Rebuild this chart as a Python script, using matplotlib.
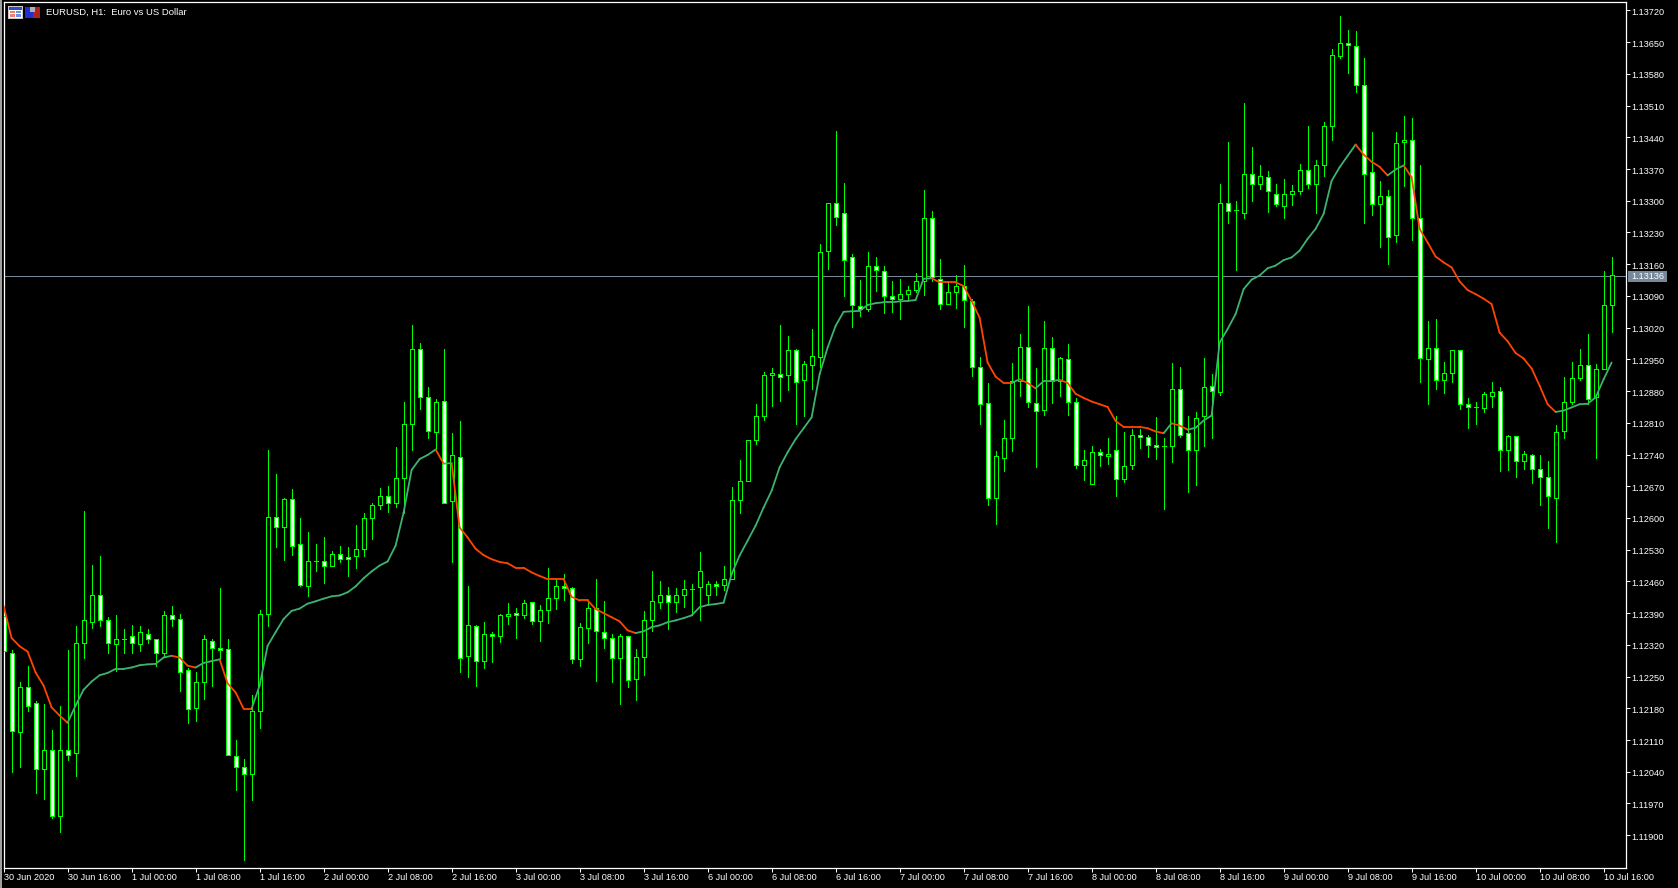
# EURUSD H1 candles with a moving average coloured by its direction
import matplotlib
matplotlib.use('Agg')
import matplotlib.pyplot as plt
from matplotlib.patches import Rectangle
from matplotlib.transforms import ScaledTranslation

# prices in 1e-5 units (points)
opens = [112384,112301,112127,112228,112191,112045,112089,111942,112089,112081,
112325,112370,112429,112374,112321,112334,112339,112321,112345,112334,
112303,112385,112378,112264,112180,112237,112328,112312,112310,112074,
112050,112034,112173,112387,112603,112581,112641,112542,112449,112506,
112506,112495,112520,112513,112515,112531,112601,112628,112648,112632,
112689,112807,112972,112866,112789,112859,112637,112734,112295,112361,
112284,112345,112339,112383,112390,112385,112414,112372,112398,112423,
112449,112445,112288,112357,112401,112348,112335,112290,112339,112244,
112293,112374,112414,112429,112414,112431,112443,112447,112429,112454,
112451,112465,112639,112681,112773,112826,112915,112917,112915,112970,
112904,112937,112956,113190,113294,113274,113175,113067,113062,113157,
113146,113089,113084,113095,113104,113122,113261,113128,113073,113098,
113113,113078,112934,112853,112645,112733,112776,112903,112978,112853,
112839,112976,112903,112950,112855,112718,112674,112745,112736,112749,
112687,112716,112784,112778,112762,112759,112758,112884,112787,112751,
112824,112892,112879,113296,113279,113274,113358,113336,113352,113314,
113288,113314,113321,113369,113336,113380,113464,113619,113649,113641,
113555,113363,113292,113310,113224,113429,113435,113261,112950,112976,
112904,112919,112970,112851,112844,112842,112870,112881,112751,112782,
112725,112740,112709,112690,112645,112791,112857,112908,112937,112866,
112928,113071]

highs = [112406,112309,112237,112274,112197,112189,112132,112184,112309,112361,
112615,112496,112515,112381,112385,112354,112363,112361,112354,112334,
112394,112405,112387,112268,112259,112341,112332,112445,112334,112109,
112067,112209,112396,112749,112696,112645,112665,112601,112570,112542,
112559,112528,112539,112537,112584,112610,112634,112667,112670,112756,
112855,113026,112986,112888,112862,112973,112787,112815,112449,112363,
112371,112348,112387,112412,112401,112418,112414,112408,112489,112463,
112476,112447,112368,112414,112465,112416,112343,112345,112339,112311,
112394,112483,112460,112447,112445,112463,112454,112524,112462,112462,
112493,112668,112727,112773,112851,112923,112932,113025,113001,112972,
112946,113016,113204,113296,113455,113339,113182,113126,113186,113175,
113157,113124,113128,113111,113140,113323,113278,113172,113124,113137,
113159,113084,112956,112897,112747,112817,112943,113005,113067,112930,
113034,112999,112956,112983,112864,112749,112758,112753,112776,112824,
112789,112796,112796,112784,112822,112776,112941,112934,112826,112833,
112952,112917,113336,113429,113299,113515,113418,113378,113365,113336,
113347,113334,113382,113466,113389,113473,113636,113707,113676,113674,
113616,113451,113343,113323,113451,113486,113482,113380,113034,113040,
112945,112970,112970,112864,112857,112879,112899,112888,112784,112782,
112747,112742,112740,112725,112806,112912,112945,112974,113005,112939,
113146,113175]

lows = [112307,112039,112051,112173,111993,111980,111937,111908,112066,112031,
112292,112357,112362,112303,112263,112303,112303,112306,112324,112274,
112295,112362,112219,112148,112152,112201,112230,112287,112076,112000,
111846,111978,112137,112362,112536,112508,112519,112449,112428,112482,
112457,112495,112503,112472,112489,112515,112554,112619,112614,112625,
112612,112751,112841,112776,112752,112634,112502,112259,112248,112230,
112268,112283,112326,112366,112336,112379,112365,112329,112369,112400,
112418,112279,112274,112325,112241,112314,112237,112190,112228,112199,
112254,112351,112402,112354,112393,112404,112385,112375,112408,112429,
112442,112465,112610,112681,112764,112817,112848,112859,112883,112808,
112826,112885,112934,113149,113247,113090,113022,113046,113057,113100,
113053,113055,113039,113079,113098,113092,113123,113062,113073,113064,
113022,112914,112807,112629,112587,112704,112748,112870,112844,112713,
112828,112854,112870,112828,112711,112684,112674,112715,112720,112649,
112680,112708,112755,112735,112731,112620,112724,112779,112658,112673,
112759,112777,112872,113252,113148,113263,113300,113326,113276,113288,
113263,113291,113314,113329,113274,113355,113435,113614,113583,113541,
113250,113269,113199,113161,113210,113333,113214,112899,112852,112885,
112876,112900,112840,112799,112808,112834,112845,112704,112706,112691,
112709,112678,112629,112578,112548,112777,112851,112904,112851,112733,
112928,113011]

closes = [112307,112129,112228,112184,112047,112089,111942,112089,112076,112325,
112374,112429,112374,112323,112334,112334,112323,112348,112334,112303,
112385,112378,112261,112178,112239,112332,112312,112308,112076,112050,
112034,112175,112387,112603,112581,112641,112539,112451,112506,112506,
112495,112520,112509,112509,112531,112601,112628,112648,112634,112689,
112807,112972,112866,112793,112857,112634,112738,112290,112363,112284,
112343,112339,112385,112387,112385,112412,112372,112398,112423,112449,
112445,112288,112359,112401,112350,112335,112290,112339,112242,112293,
112374,112416,112429,112414,112431,112443,112443,112482,112454,112449,
112465,112639,112681,112773,112826,112915,112921,112912,112970,112901,
112939,112957,113186,113294,113265,113170,113071,113062,113157,113148,
113089,113084,113095,113104,113122,113261,113131,113073,113098,113113,
113080,112934,112851,112643,112736,112776,112903,112978,112855,112837,
112976,112903,112952,112857,112716,112727,112745,112738,112742,112687,
112714,112784,112778,112762,112756,112759,112884,112784,112749,112820,
112888,112881,113296,113277,113279,113358,113338,113354,113321,113292,
113314,113321,113369,113336,113380,113464,113621,113649,113643,113555,
113360,113292,113310,113221,113427,113435,113261,112952,112976,112904,
112921,112970,112851,112846,112844,112873,112877,112751,112782,112725,
112742,112709,112690,112648,112789,112857,112908,112937,112862,112928,
113071,113136]

ma = [112406,112335,112317,112305,112259,112230,112182,112164,112148,112186,
112221,112239,112253,112258,112267,112267,112270,112275,112277,112278,
112292,112296,112292,112274,112270,112280,112284,112288,112235,112215,
112179,112179,112230,112318,112348,112377,112395,112400,112411,112416,
112422,112427,112429,112436,112449,112467,112482,112495,112504,112539,
112612,112706,112730,112739,112751,112720,112721,112579,112557,112532,
112518,112509,112503,112500,112490,112490,112480,112472,112465,112465,
112465,112426,112418,112418,112399,112390,112381,112372,112352,112346,
112350,112359,112363,112370,112374,112379,112385,112403,112408,112410,
112413,112476,112517,112550,112583,112623,112660,112712,112745,112774,
112798,112822,112917,112976,113024,113055,113056,113057,113070,113074,
113076,113076,113078,113079,113081,113128,113129,113120,113120,113120,
113112,113079,113042,112943,112912,112898,112898,112906,112898,112886,
112902,112902,112905,112898,112874,112865,112857,112851,112845,112814,
112801,112801,112801,112798,112791,112787,112809,112804,112795,112799,
112815,112826,112987,113017,113050,113105,113126,113135,113151,113157,
113169,113175,113190,113216,113238,113271,113344,113374,113399,113424,
113402,113386,113375,113356,113369,113378,113352,113238,113208,113177,
113164,113153,113122,113103,113094,113084,113072,113009,112990,112964,
112952,112930,112892,112851,112834,112837,112844,112851,112852,112866,
112906,112943]

last_price = 113136
price_ticks = [113720,113650,113580,113510,113440,113370,113300,113230,113160,113090,
               113020,112950,112880,112810,112740,112670,112600,112530,112460,112390,
               112320,112250,112180,112110,112040,111970,111900]
time_labels = ['30 Jun 2020','30 Jun 16:00','1 Jul 00:00','1 Jul 08:00','1 Jul 16:00',
               '2 Jul 00:00','2 Jul 08:00','2 Jul 16:00','3 Jul 00:00','3 Jul 08:00',
               '3 Jul 16:00','6 Jul 00:00','6 Jul 08:00','6 Jul 16:00','7 Jul 00:00',
               '7 Jul 08:00','7 Jul 16:00','8 Jul 00:00','8 Jul 08:00','8 Jul 16:00',
               '9 Jul 00:00','9 Jul 08:00','9 Jul 16:00','10 Jul 00:00','10 Jul 08:00',
               '10 Jul 16:00']
title = 'EURUSD, H1:  Euro vs US Dollar'

W, H = 1678, 888
LIME = '#00FF00'
FONT = 'Liberation Sans'
FS = 6.6

fig = plt.figure(figsize=(W / 100, H / 100), dpi=100, facecolor='black')
ax = fig.add_axes([3.6 / W, 1 - 867.8 / H, 1621.9 / W, 865.5 / H], facecolor='black')
ax.set_xlim(0, 1621.9 / 8)          # one bar = 8 px
ax.set_ylim(111828, 113738)

# one pixel down, the line and the scale labels snap differently from the candles
one_px_down = ScaledTranslation(0, -1 / 100, fig.dpi_scale_trans)

# the price line goes under the candles
price_line = ax.axhline(last_price, color='#778899', lw=0.72, zorder=1)
price_line.set_transform(price_line.get_transform() + one_px_down)

# wicks and bodies
for i in range(len(opens)):
    top = max(opens[i], closes[i])
    bot = min(opens[i], closes[i])
    ax.vlines(i, lows[i], highs[i], color=LIME, lw=0.72, antialiased=False, zorder=2)
    if top == bot:
        ax.hlines(top, i - 0.25, i + 0.25, color=LIME, lw=0.72, antialiased=False, zorder=3)
    else:
        fill = 'white' if closes[i] < opens[i] else 'black'
        ax.bar(i, top - bot, bottom=bot, width=0.5, facecolor=fill, edgecolor=LIME,
               linewidth=0.72, antialiased=False, zorder=3)

# orange when falling, green when rising, a flat bar keeps the last colour
color = '#FF4500'
for i in range(1, len(ma)):
    if ma[i] > ma[i - 1]:
        color = '#3CB371'
    elif ma[i] < ma[i - 1]:
        color = '#FF4500'
    ax.plot([i - 1, i], [ma[i - 1], ma[i]], color=color, lw=1.3, zorder=4,
            solid_capstyle='round')

for side in ['top', 'bottom', 'left', 'right']:
    ax.spines[side].set_color('white')
    ax.spines[side].set_linewidth(0.9)

ax.yaxis.tick_right()
ax.set_yticks(price_ticks)
ax.set_yticklabels(['%.5f' % (p / 1e5) for p in price_ticks])
ax.tick_params(axis='y', colors='white', length=3, width=0.72, pad=1.5, labelsize=FS)
ax.set_xticks([8 * k for k in range(len(time_labels))])
ax.set_xticklabels(time_labels, ha='left')
ax.tick_params(axis='x', colors='white', length=3, width=0.72, pad=0.8, labelsize=FS)
for t in ax.get_xticklabels() + ax.get_yticklabels():
    t.set_fontfamily(FONT)
for t in ax.get_yticklabels():
    t.set_transform(t.get_transform() + one_px_down)

# bid label on the price scale
fig.text(1647.5 / W, 1 - 276.5 / H, '%.5f' % (last_price / 1e5), color='white', fontsize=FS,
         family=FONT, ha='center', va='center', zorder=6)


def px_rect(x, y, w, h, c):
    # rectangle given in image pixels, y from the top
    fig.add_artist(Rectangle((x / W, 1 - (y + h) / H), w / W, h / H, transform=fig.transFigure,
                             facecolor=c, edgecolor='none', antialiased=False, zorder=5))


px_rect(1628, 271, 39, 11, '#778899')
px_rect(0, 0, 2, H, '#A0A0A0')

# the two little window icons
px_rect(8, 6, 15, 13, '#C8C8C8')
px_rect(9, 7, 13, 3, '#3050C0')
px_rect(9, 10, 13, 8, 'white')
px_rect(10, 11, 5, 2, '#F08070')
px_rect(10, 14, 5, 3, '#F08070')
px_rect(16, 11, 5, 2, '#7090E0')
px_rect(16, 14, 5, 3, '#7090E0')
px_rect(25, 7, 8, 11, '#2030D0')
px_rect(33, 7, 7, 11, '#B02020')
px_rect(30, 7, 5, 5, '#B0B0B0')

fig.text(45.5 / W, 1 - 12.5 / H, title, color='white', fontsize=FS + 0.2, family=FONT,
         ha='left', va='center')

plt.savefig('out.png', facecolor='black')
